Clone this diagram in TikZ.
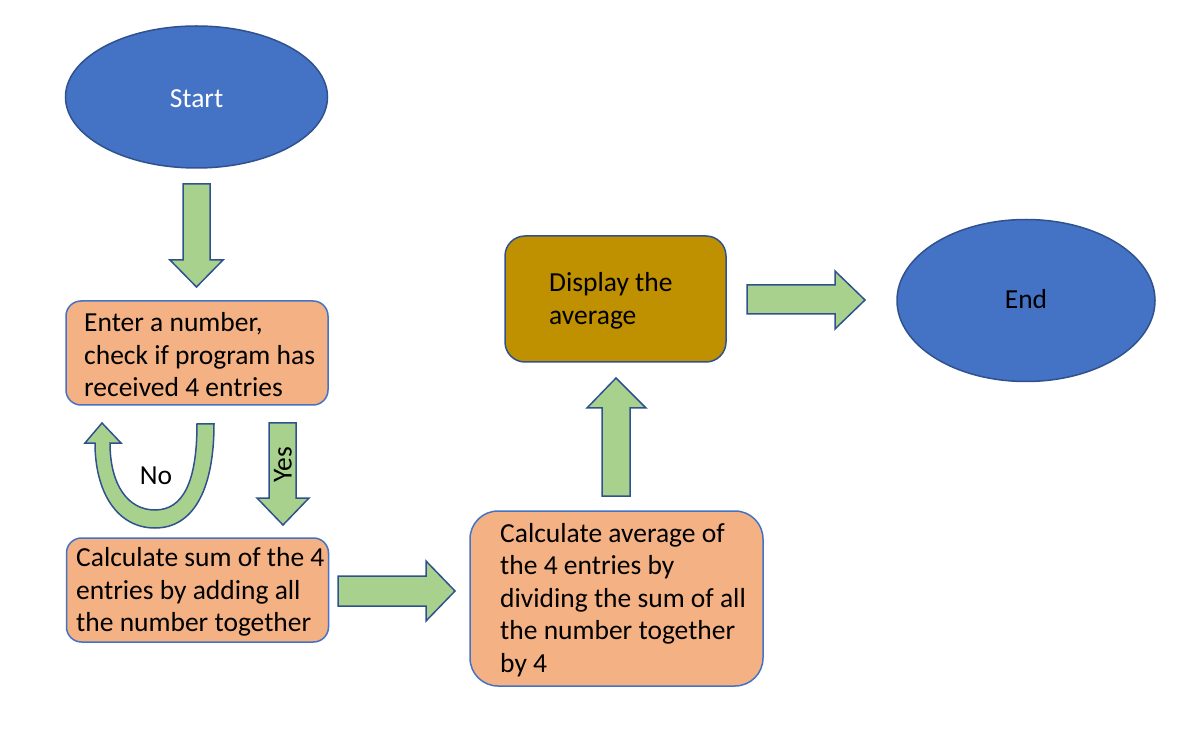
\documentclass[tikz,border=0pt]{standalone}
\usepackage{fontspec}
\setmainfont{Carlito}
\usetikzlibrary{shapes.geometric}
\definecolor{ellfill}{HTML}{4472C4}
\definecolor{ellline}{HTML}{2F528F}
\definecolor{boxfill}{HTML}{F4B183}
\definecolor{boxline}{HTML}{4472C4}
\definecolor{dispfill}{HTML}{BF9000}
\definecolor{arrfill}{HTML}{A9D18E}
\definecolor{arrline}{HTML}{2F528F}
\begin{document}
\begin{tikzpicture}[x=1pt,y=-1pt,
  term/.style={ellipse, draw=ellline, fill=ellfill, line width=1.5pt, inner sep=0pt},
  procbox/.style={draw=boxline, fill=boxfill, line width=1.5pt, inner sep=0pt},
  txt/.style={font=\fontsize{27.5}{32.5}\selectfont, align=left, anchor=west, inner sep=0pt, text=black},
  blockarrow/.style={draw=arrline, fill=arrfill, line width=1.5pt, line join=miter}
]
\useasboundingbox (0,0) rectangle (1195,743);

% terminals
\node[term, minimum width=262pt, minimum height=142pt] (start) at (196.5,97) {};
\node[txt, anchor=center, text=white] (starttxt) at (196.5,99) {Start};
\node[term, minimum width=258pt, minimum height=162pt] (end) at (1026,300.5) {};
\node[txt, anchor=center] (endtxt) at (1026,299) {End};

% process boxes
\node[procbox, rounded corners=15pt, minimum width=262pt, minimum height=104pt] (enter) at (197,353) {};
\node[txt] (entertxt) at (84,355) {Enter a number,\\check if program has\\received 4 entries};

\node[procbox, rounded corners=15pt, minimum width=262pt, minimum height=104pt] (sum) at (197.5,590) {};
\node[txt] (sumtxt) at (76,592) {Calculate sum of the 4\\entries by adding all\\the number together};

\node[procbox, rounded corners=28pt, minimum width=293pt, minimum height=175pt] (avg) at (616.5,598.5) {};
\node[txt] (avgtxt) at (500,600) {Calculate average of\\the 4 entries by\\dividing the sum of all\\the number together\\by 4};

\node[procbox, draw=ellline, fill=dispfill, rounded corners=20pt, minimum width=221pt, minimum height=126pt] (disp) at (615.5,299) {};
\node[txt] (disptxt) at (549,301) {Display the\\average};

% block arrows
% Start -> Enter
\draw[blockarrow] (183,184) -- (210,184) -- (210,260) -- (223,260) -- (196.5,287) -- (170,260) -- (183,260) -- cycle;
% Yes arrow
\draw[blockarrow] (269,423) -- (296,423) -- (296,498) -- (309,498) -- (283,525) -- (257,498) -- (269,498) -- cycle;
\node[txt, anchor=center, rotate=90] (yes) at (283,465) {Yes};
% No U-turn arrow
\draw[blockarrow] (214,424) .. controls (214,492) and (192,528) .. (155,528)
  .. controls (117,528) and (95,492) .. (95,443) -- (85,443) -- (102,423) -- (121,443) -- (110,443)
  .. controls (110,485) and (128,510) .. (155,510)
  .. controls (183,510) and (197,482) .. (197,424) -- cycle;
\node[txt, anchor=center] (no) at (156,476) {No};
% Sum -> Avg
\draw[blockarrow] (338,576) -- (426,576) -- (426,561) -- (455,591) -- (426,621) -- (426,606) -- (338,606) -- cycle;
% Avg -> Display
\draw[blockarrow] (602,496) -- (602,408) -- (587,408) -- (616,378) -- (646,408) -- (630,408) -- (630,496) -- cycle;
% Display -> End
\draw[blockarrow] (747,285) -- (835,285) -- (835,271) -- (865,300) -- (835,329) -- (835,314) -- (747,314) -- cycle;
\end{tikzpicture}
\end{document}
